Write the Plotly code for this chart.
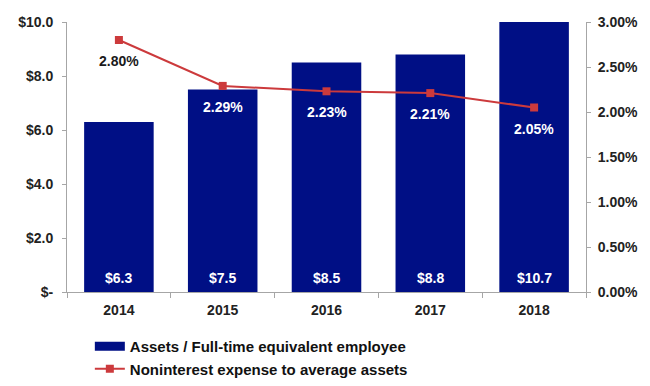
import plotly.graph_objects as go

years = ["2014", "2015", "2016", "2017", "2018"]
assets_per_fte = [6.3, 7.5, 8.5, 8.8, 10.7]
nonint_expense_pct = [2.80, 2.29, 2.23, 2.21, 2.05]
left_ticks = [0, 2, 4, 6, 8, 10]
left_tick_text = ["$-", "$2.0", "$4.0", "$6.0", "$8.0", "$10.0"]
right_ticks = [0, 0.5, 1.0, 1.5, 2.0, 2.5, 3.0]
right_tick_text = ["0.00%", "0.50%", "1.00%", "1.50%", "2.00%", "2.50%", "3.00%"]

BAR_NAME = "Assets / Full-time equivalent employee"
LINE_NAME = "Noninterest expense to average assets"

FONT = "Liberation Sans, Arial, sans-serif"
NAVY = "#000F85"
RED = "#CC3A3C"
AXIS = "#A6A6A6"
TXT = "#222222"

fig = go.Figure()
fig.add_trace(go.Bar(
    x=years, y=assets_per_fte, name=BAR_NAME, showlegend=False,
    marker=dict(color=NAVY, line=dict(width=0)), yaxis="y",
))
# Legend-only entry so the bar key is drawn as a wide block
fig.add_trace(go.Scatter(
    x=[None], y=[None], name=BAR_NAME, mode="lines",
    line=dict(color=NAVY, width=9), yaxis="y",
))
fig.add_trace(go.Scatter(
    x=years, y=nonint_expense_pct, name=LINE_NAME,
    mode="lines+markers", line=dict(color=RED, width=2),
    marker=dict(symbol="square", size=8, color=RED), yaxis="y2",
))

annotations = []
# Bar value labels along the base of each bar (x given as category index)
for i, v in enumerate(assets_per_fte):
    annotations.append(dict(
        x=i, y=0, xref="x", yref="y", text=f"<b>${v:.1f}</b>", showarrow=False,
        yanchor="middle", yshift=14, font=dict(family=FONT, size=14, color="white"),
    ))
# Ratio labels beneath each line point
for i, v in enumerate(nonint_expense_pct):
    annotations.append(dict(
        x=i, y=v, xref="x", yref="y2", text=f"<b>{v:.2f}%</b>", showarrow=False,
        yanchor="middle", yshift=-21,
        font=dict(family=FONT, size=14, color="#1a1a1a" if i == 0 else "white"),
    ))

tickfont = dict(family=FONT, size=14, color=TXT, weight="bold")

fig.update_layout(
    width=650, height=386,
    margin=dict(l=67, r=58, t=22, b=94),
    paper_bgcolor="white", plot_bgcolor="white",
    bargap=0.33,
    font=dict(family=FONT, size=12, color=TXT),
    showlegend=True,
    legend=dict(
        xref="paper", yref="container",
        x=0.044, y=1 / 386, xanchor="left", yanchor="bottom", orientation="v",
        font=dict(family=FONT, size=15, color="#111111", weight="bold"),
        tracegroupgap=0, bgcolor="rgba(0,0,0,0)",
    ),
    xaxis=dict(
        type="category", range=[-0.5, len(years) - 0.5],
        showgrid=False, showline=True, linecolor=AXIS, linewidth=1,
        ticks="outside", tickson="boundaries", ticklen=5, tickcolor=AXIS,
        ticklabelstandoff=5, tickfont=tickfont,
    ),
    yaxis=dict(
        range=[0, 10], tickvals=left_ticks, ticktext=left_tick_text,
        showgrid=False, zeroline=False, showline=True, linecolor=AXIS, linewidth=1,
        ticks="outside", ticklen=4, tickcolor=AXIS,
        ticklabelstandoff=6, tickfont=tickfont,
    ),
    yaxis2=dict(
        range=[0, 3], tickvals=right_ticks, ticktext=right_tick_text,
        overlaying="y", side="right",
        showgrid=False, zeroline=False, showline=True, linecolor=AXIS, linewidth=1,
        ticks="outside", ticklen=4, tickcolor=AXIS,
        ticklabelstandoff=4, tickfont=tickfont,
    ),
    annotations=annotations,
)

fig.write_html("out.html")
